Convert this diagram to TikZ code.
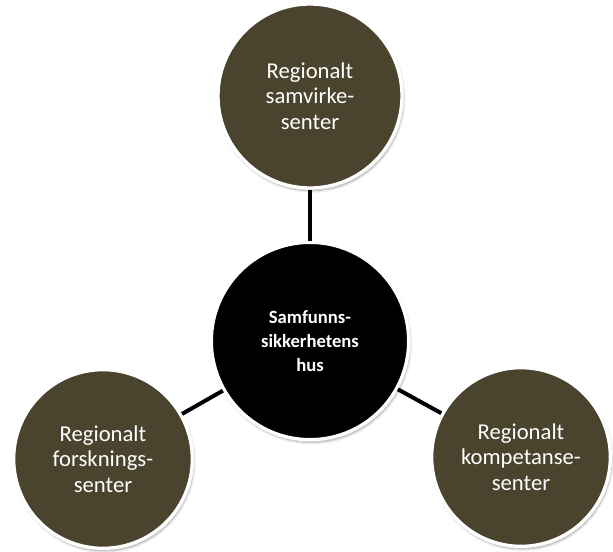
\documentclass[tikz,border=0pt]{standalone}
\usepackage{fontspec}
\setmainfont{Carlito}
\usetikzlibrary{shadows.blur}
\definecolor{olivebrown}{RGB}{74,67,46}
\begin{document}
\begin{tikzpicture}[x=0.75pt, y=-0.75pt,
  every node/.style={font=\fontsize{17}{19}\selectfont, text=white, align=center},
  unit/.style={circle, fill=olivebrown, draw=white, line width=2.5pt, inner sep=0pt,
    blur shadow={shadow xshift=1pt, shadow yshift=-2pt, shadow blur steps=6, shadow opacity=35}},
  link/.style={line width=3pt, black}]
  \useasboundingbox (0,0) rectangle (613,552);
  \node[unit, minimum size=138pt] (samv) at (310,96) {Regionalt\\samvirke-\\senter};
  \node[unit, fill=black, minimum size=148pt, font=\fontsize{14}{18}\selectfont\bfseries] (hus) at (310,341) {Samfunns-\\sikkerhetens\\hus};
  \node[unit, minimum size=134pt] (forsk) at (103,459) {Regionalt\\forsknings-\\senter};
  \node[unit, minimum size=134pt] (komp) at (521,457) {Regionalt\\kompetanse-\\senter};
  \draw[link] (samv) -- (hus);
  \draw[link] (hus) -- (forsk);
  \draw[link] (hus) -- (komp);
\end{tikzpicture}
\end{document}
